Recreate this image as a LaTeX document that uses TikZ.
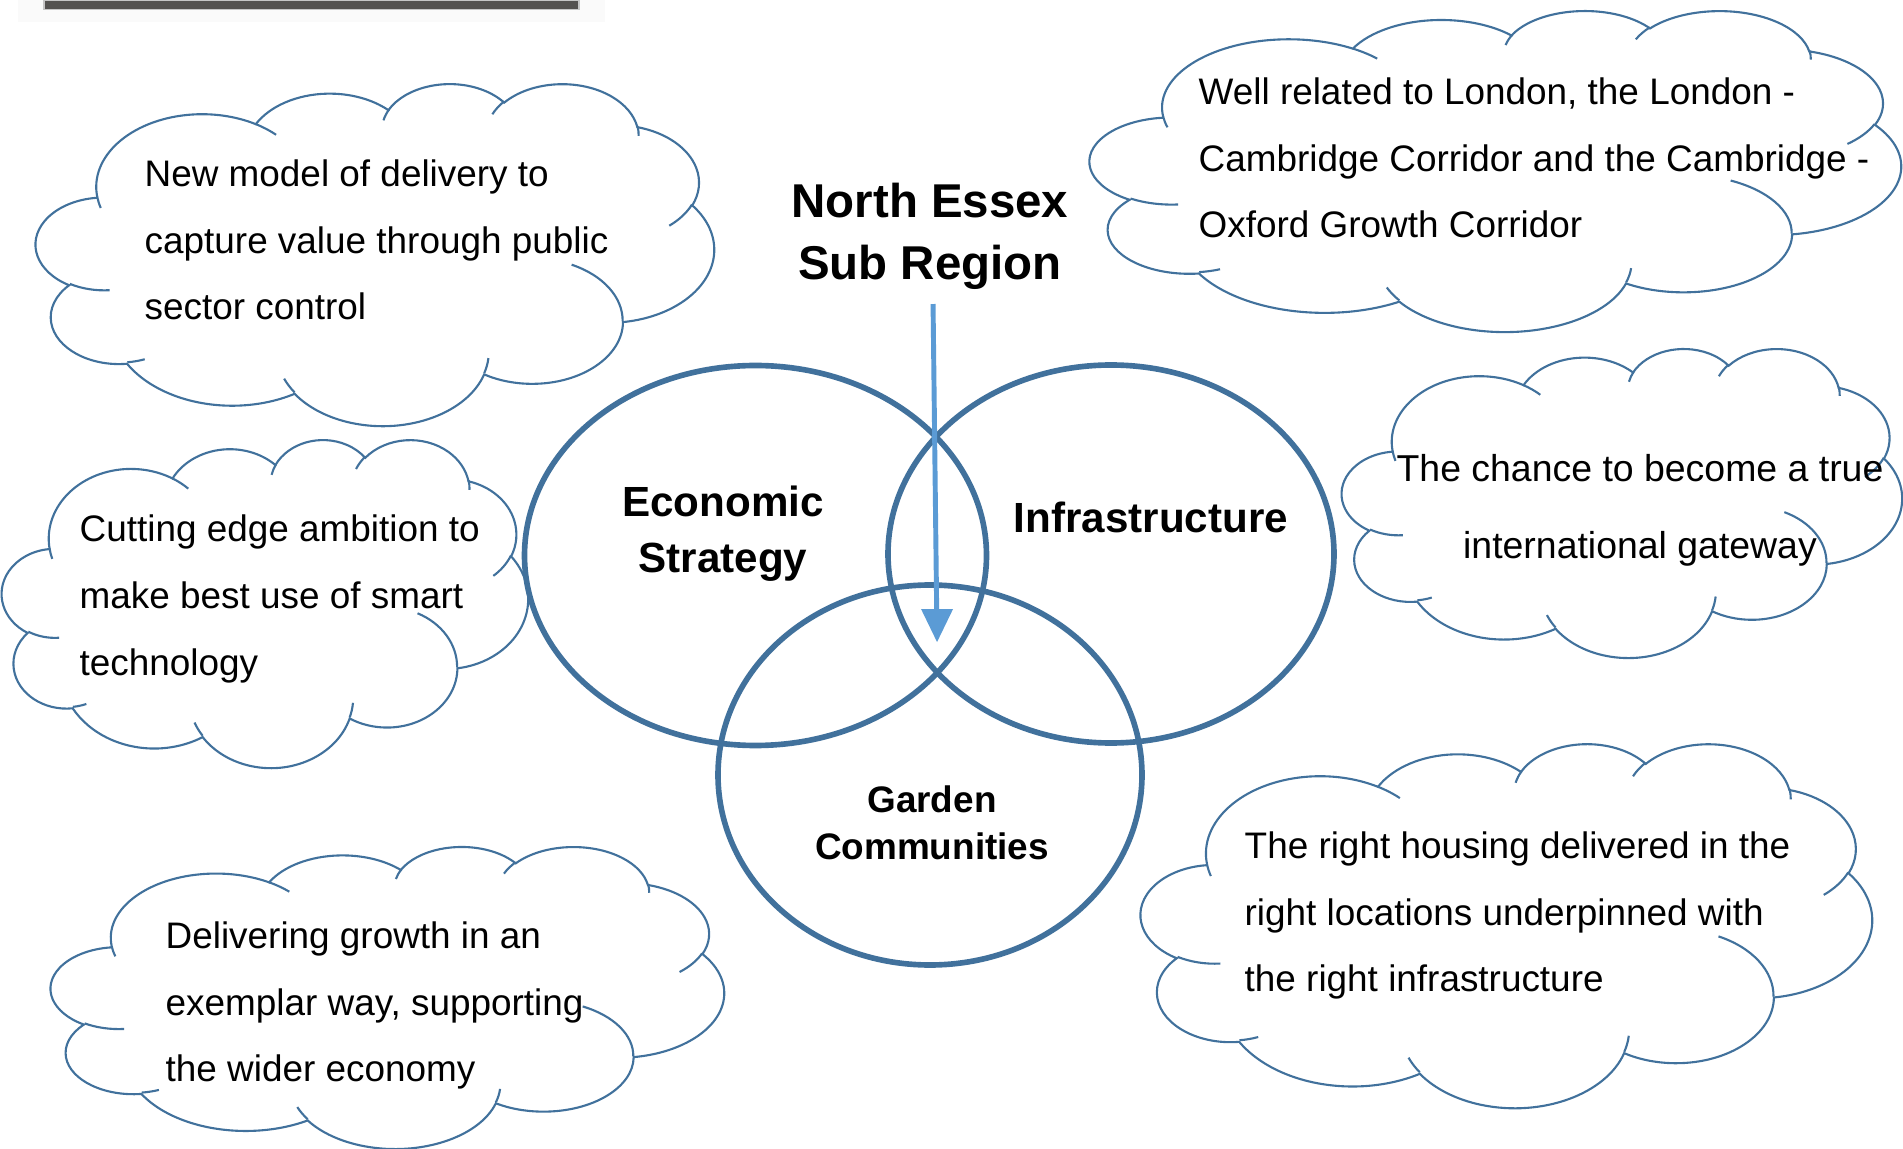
\documentclass[tikz,border=0pt]{standalone}
\usepackage{fontspec}
\setmainfont{Liberation Sans}
\usepackage{tikz}

\definecolor{vennblue}{HTML}{41719C}
\definecolor{arrowblue}{HTML}{5B9BD5}
\definecolor{bargray}{HTML}{545250}

\tikzset{
  lobe/.code n args={4}{%
    \pgfmathsetmacro\lobest{atan2(#1*sin(#3),#2*cos(#3))}%
    \pgfmathsetmacro\lobeen{atan2(#1*sin(#3+#4),#2*cos(#3+#4))}%
    \pgfmathsetmacro\lobesw{mod(\lobeen-\lobest+720,360)}%
    \edef\lobeopts{x radius=#1,y radius=#2,start angle=\lobest,delta angle=\lobesw}%
    \expandafter\pgfkeysalso\expandafter{\lobeopts}}
}

\newcommand{\drawcloud}[4]{%
\begin{scope}[shift={(#1,#2)},xscale=#3/43.2,yscale=-#4/43.2]
\draw [cloudline] (3.900,14.370) arc[lobe={6.753}{9.190}{-190.4875}{123.7805}]
  arc[lobe={5.333}{7.267}{-144.1024}{89.9452}]
  arc[lobe={4.365}{5.945}{-145.8079}{99.7230}]
  arc[lobe={4.857}{6.595}{-130.9861}{117.2417}]
  arc[lobe={5.333}{7.273}{-78.7089}{109.0269}]
  arc[lobe={6.775}{9.220}{-46.2673}{130.2690}]
  arc[lobe={5.785}{7.867}{0.6250}{114.0333}]
  arc[lobe={6.752}{9.215}{22.4516}{115.1726}]
  arc[lobe={7.720}{10.543}{66.2426}{75.7110}]
  arc[lobe={4.360}{5.918}{-274.9421}{146.7356}]
  arc[lobe={4.345}{5.945}{-246.8285}{152.5189}] -- cycle;
\draw [cloudline] (4.693,26.177) arc[lobe={4.345}{5.945}{86.7420}{26.4295}]
  (6.928,34.899) arc[lobe={4.360}{5.918}{73.6105}{11.4475}]
  (16.478,39.090) arc[lobe={6.752}{9.215}{137.6242}{14.0811}]
  (28.827,34.751) arc[lobe={6.752}{9.215}{6.4533}{15.9984}]
  (34.129,22.954) arc[lobe={5.785}{7.867}{-70.2924}{70.9174}]
  (41.798,15.354) arc[lobe={5.333}{7.273}{30.3180}{27.7515}]
  (38.324,5.426) arc[lobe={4.857}{6.595}{-13.7443}{14.8589}]
  (29.078,3.952) arc[lobe={4.857}{6.595}{-149.1815}{18.1954}]
  (22.141,4.720) arc[lobe={4.365}{5.945}{-163.4943}{17.6864}]
  (14.000,5.192) arc[lobe={6.753}{9.190}{-66.7070}{12.3194}]
  (4.127,15.789) arc[lobe={6.753}{9.190}{157.6544}{11.8582}];
\end{scope}}

\begin{document}
\begin{tikzpicture}[scale=0.1]
\tikzstyle{every node}+=[inner sep=0pt]
\tikzstyle{venn}=[draw=vennblue, line width=1.6pt]
\tikzstyle{cloudline}=[draw=vennblue, line width=0.6pt]
\tikzstyle{bodytext}=[align=left, font=\fontsize{10.5}{19}\selectfont]
\tikzstyle{setlabel}=[align=center, font=\fontsize{12}{15.9}\selectfont\bfseries]
\useasboundingbox (0,0) rectangle (190.3,-114.9);
\fill [gray!4] (1.8,0) rectangle (60.5,-2.2);
\fill [bargray, draw=gray!45, line width=0.3pt] (4.4,0) rectangle (57.9,-0.95);
\draw [venn] (75.55,-55.55) ellipse (23.1 and 19.0);
\draw [venn] (111.1,-55.4) ellipse (22.3 and 18.9);
\draw [venn] (93.0,-77.5) ellipse (21.2 and 19.0);
\node [setlabel] (econ) at (72.3,-53.4) {Economic\\Strategy};
\node [setlabel] (infra) at (115.1,-51.7) {Infrastructure};
\node [align=center, font=\fontsize{10.5}{13.4}\selectfont\bfseries] (garden) at (93.2,-82.3) {Garden\\Communities};
\node [align=center, font=\fontsize{13.5}{17.6}\selectfont\bfseries] (title) at (93.0,-23.6) {North Essex\\Sub Region};
\drawcloud{3.6}{-8.3}{67.8}{34.2}
\node [bodytext, anchor=west] (model) at (14.4,-24.0) {New model of delivery to\\capture value through public\\sector control};
\drawcloud{109.0}{-1.0}{81.1}{32.1}
\node [bodytext, anchor=west] (london) at (119.8,-15.8) {Well related to London, the London -\\Cambridge Corridor and the Cambridge -\\Oxford Growth Corridor};
\drawcloud{134.2}{-34.8}{56.0}{30.9}
\node [align=center, font=\fontsize{10.65}{21.9}\selectfont] (gateway) at (164.0,-51.0) {The chance to become a true\\international gateway};
\drawcloud{0.2}{-43.9}{52.6}{32.8}
\node [bodytext, anchor=west] (smart) at (7.9,-59.9) {Cutting edge ambition to\\make best use of smart\\technology};
\drawcloud{5.1}{-84.6}{67.3}{30.2}
\node [bodytext, anchor=west] (growth) at (16.5,-100.55) {Delivering growth in an\\exemplar way, supporting\\the wider economy};
\drawcloud{114.1}{-74.3}{73.1}{36.4}
\node [bodytext, anchor=west] (housing) at (124.4,-91.55) {The right housing delivered in the\\right locations underpinned with\\the right infrastructure};
\coordinate (top) at (93.3,-30.4);
\coordinate (core) at (93.7,-64.2);
\draw [arrowblue, line width=1.4pt, shorten >=0.3cm] (top) -- (core);
\fill [arrowblue] (core) -- ++(-1.6,3.3) -- ++(3.2,0) -- cycle;
\end{tikzpicture}
\end{document}
